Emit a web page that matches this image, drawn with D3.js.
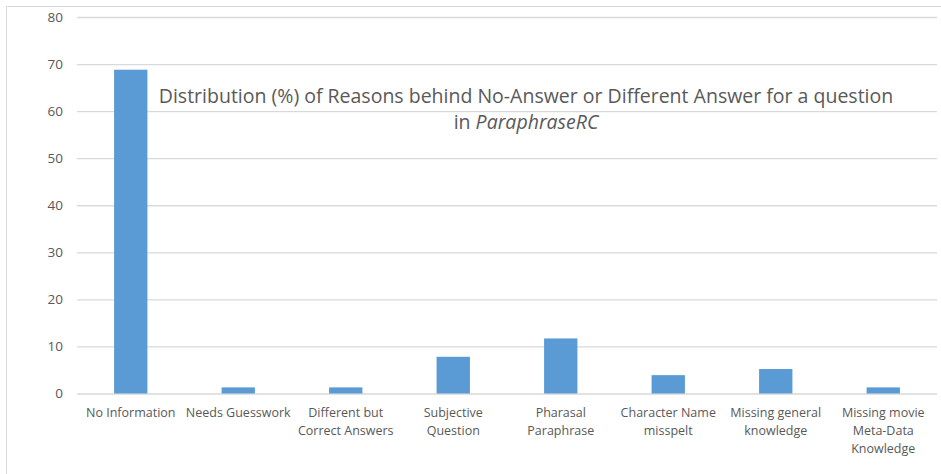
<!DOCTYPE html>
<html>
<head>
<meta charset="utf-8">
<script src="https://cdn.jsdelivr.net/npm/d3@7"></script>
<style>
	body { margin: 0; background: #fff; }
	svg { display: block; }
</style>
</head>
<body>
<svg id="chart" width="941" height="474"></svg>
<script>
// Data
const categories = [
	"No Information",
	"Needs Guesswork",
	"Different but\nCorrect Answers",
	"Subjective\nQuestion",
	"Pharasal\nParaphrase",
	"Character Name\nmisspelt",
	"Missing general\nknowledge",
	"Missing movie\nMeta-Data\nKnowledge",
];
const values = [68.8, 1.3, 1.3, 7.8, 11.7, 3.9, 5.2, 1.3];
const yTicks = [0, 10, 20, 30, 40, 50, 60, 70, 80];

const textColor = "#595959";
const gridColor = "#d9d9d9";
const barColor = "#5b9bd5";
const fontFamily = "'Open Sans', sans-serif";

const svg = d3.select("#chart");
const margin = { top: 17, right: 4, bottom: 80.5, left: 77 };
const width = +svg.attr("width");
const height = +svg.attr("height");

// chart area border (only left and top edges visible in the crop)
svg.append("path")
	.attr("d", `M6.5,${height} V6.5 H${width}`)
	.attr("fill", "none")
	.attr("stroke", gridColor);

const x = d3.scaleBand()
	.domain(categories)
	.range([margin.left, width - margin.right])
	.paddingInner(0.69)
	.paddingOuter(0.345);

const y = d3.scaleLinear()
	.domain([0, 80])
	.range([height - margin.bottom, margin.top]);

// gridlines + y labels
const yAxis = svg.append("g")
	.attr("transform", `translate(${margin.left},0)`)
	.call(d3.axisLeft(y).tickValues(yTicks).tickSize(-(width - margin.right - margin.left)).tickPadding(14));
yAxis.select(".domain").remove();
yAxis.selectAll(".tick line").attr("stroke", gridColor).attr("stroke-width", 1.3);
yAxis.selectAll(".tick text")
	.attr("fill", textColor)
	.style("font", `13.5px ${fontFamily}`);

// bars
svg.append("g")
	.selectAll("rect")
	.data(values)
	.join("rect")
	.attr("x", (d, i) => x(categories[i]))
	.attr("width", x.bandwidth())
	.attr("y", (d) => y(d))
	.attr("height", (d) => y(0) - y(d))
	.attr("fill", barColor);

// x labels, multi-line
const xLabels = svg.append("g")
	.attr("fill", textColor)
	.style("font", `12.5px ${fontFamily}`)
	.attr("text-anchor", "middle")
	.selectAll("text")
	.data(categories)
	.join("text")
	.attr("x", (d) => x(d) + x.bandwidth() / 2)
	.attr("y", y(0) + 23);
xLabels.selectAll("tspan")
	.data((d) => d.split("\n"))
	.join("tspan")
	.attr("x", function () { return this.parentNode.getAttribute("x"); })
	.attr("dy", (d, i) => (i === 0 ? 0 : 18))
	.text((d) => d);

// title
const title = svg.append("g")
	.attr("fill", textColor)
	.style("font", `19.5px ${fontFamily}`)
	.attr("text-anchor", "middle");
title.append("text")
	.attr("x", 526)
	.attr("y", 103)
	.text("Distribution (%) of Reasons behind No-Answer or Different Answer for a question");
const t2 = title.append("text").attr("x", 526).attr("y", 129);
t2.append("tspan").text("in ");
t2.append("tspan").style("font-style", "italic").text("ParaphraseRC");
</script>
</body>
</html>
